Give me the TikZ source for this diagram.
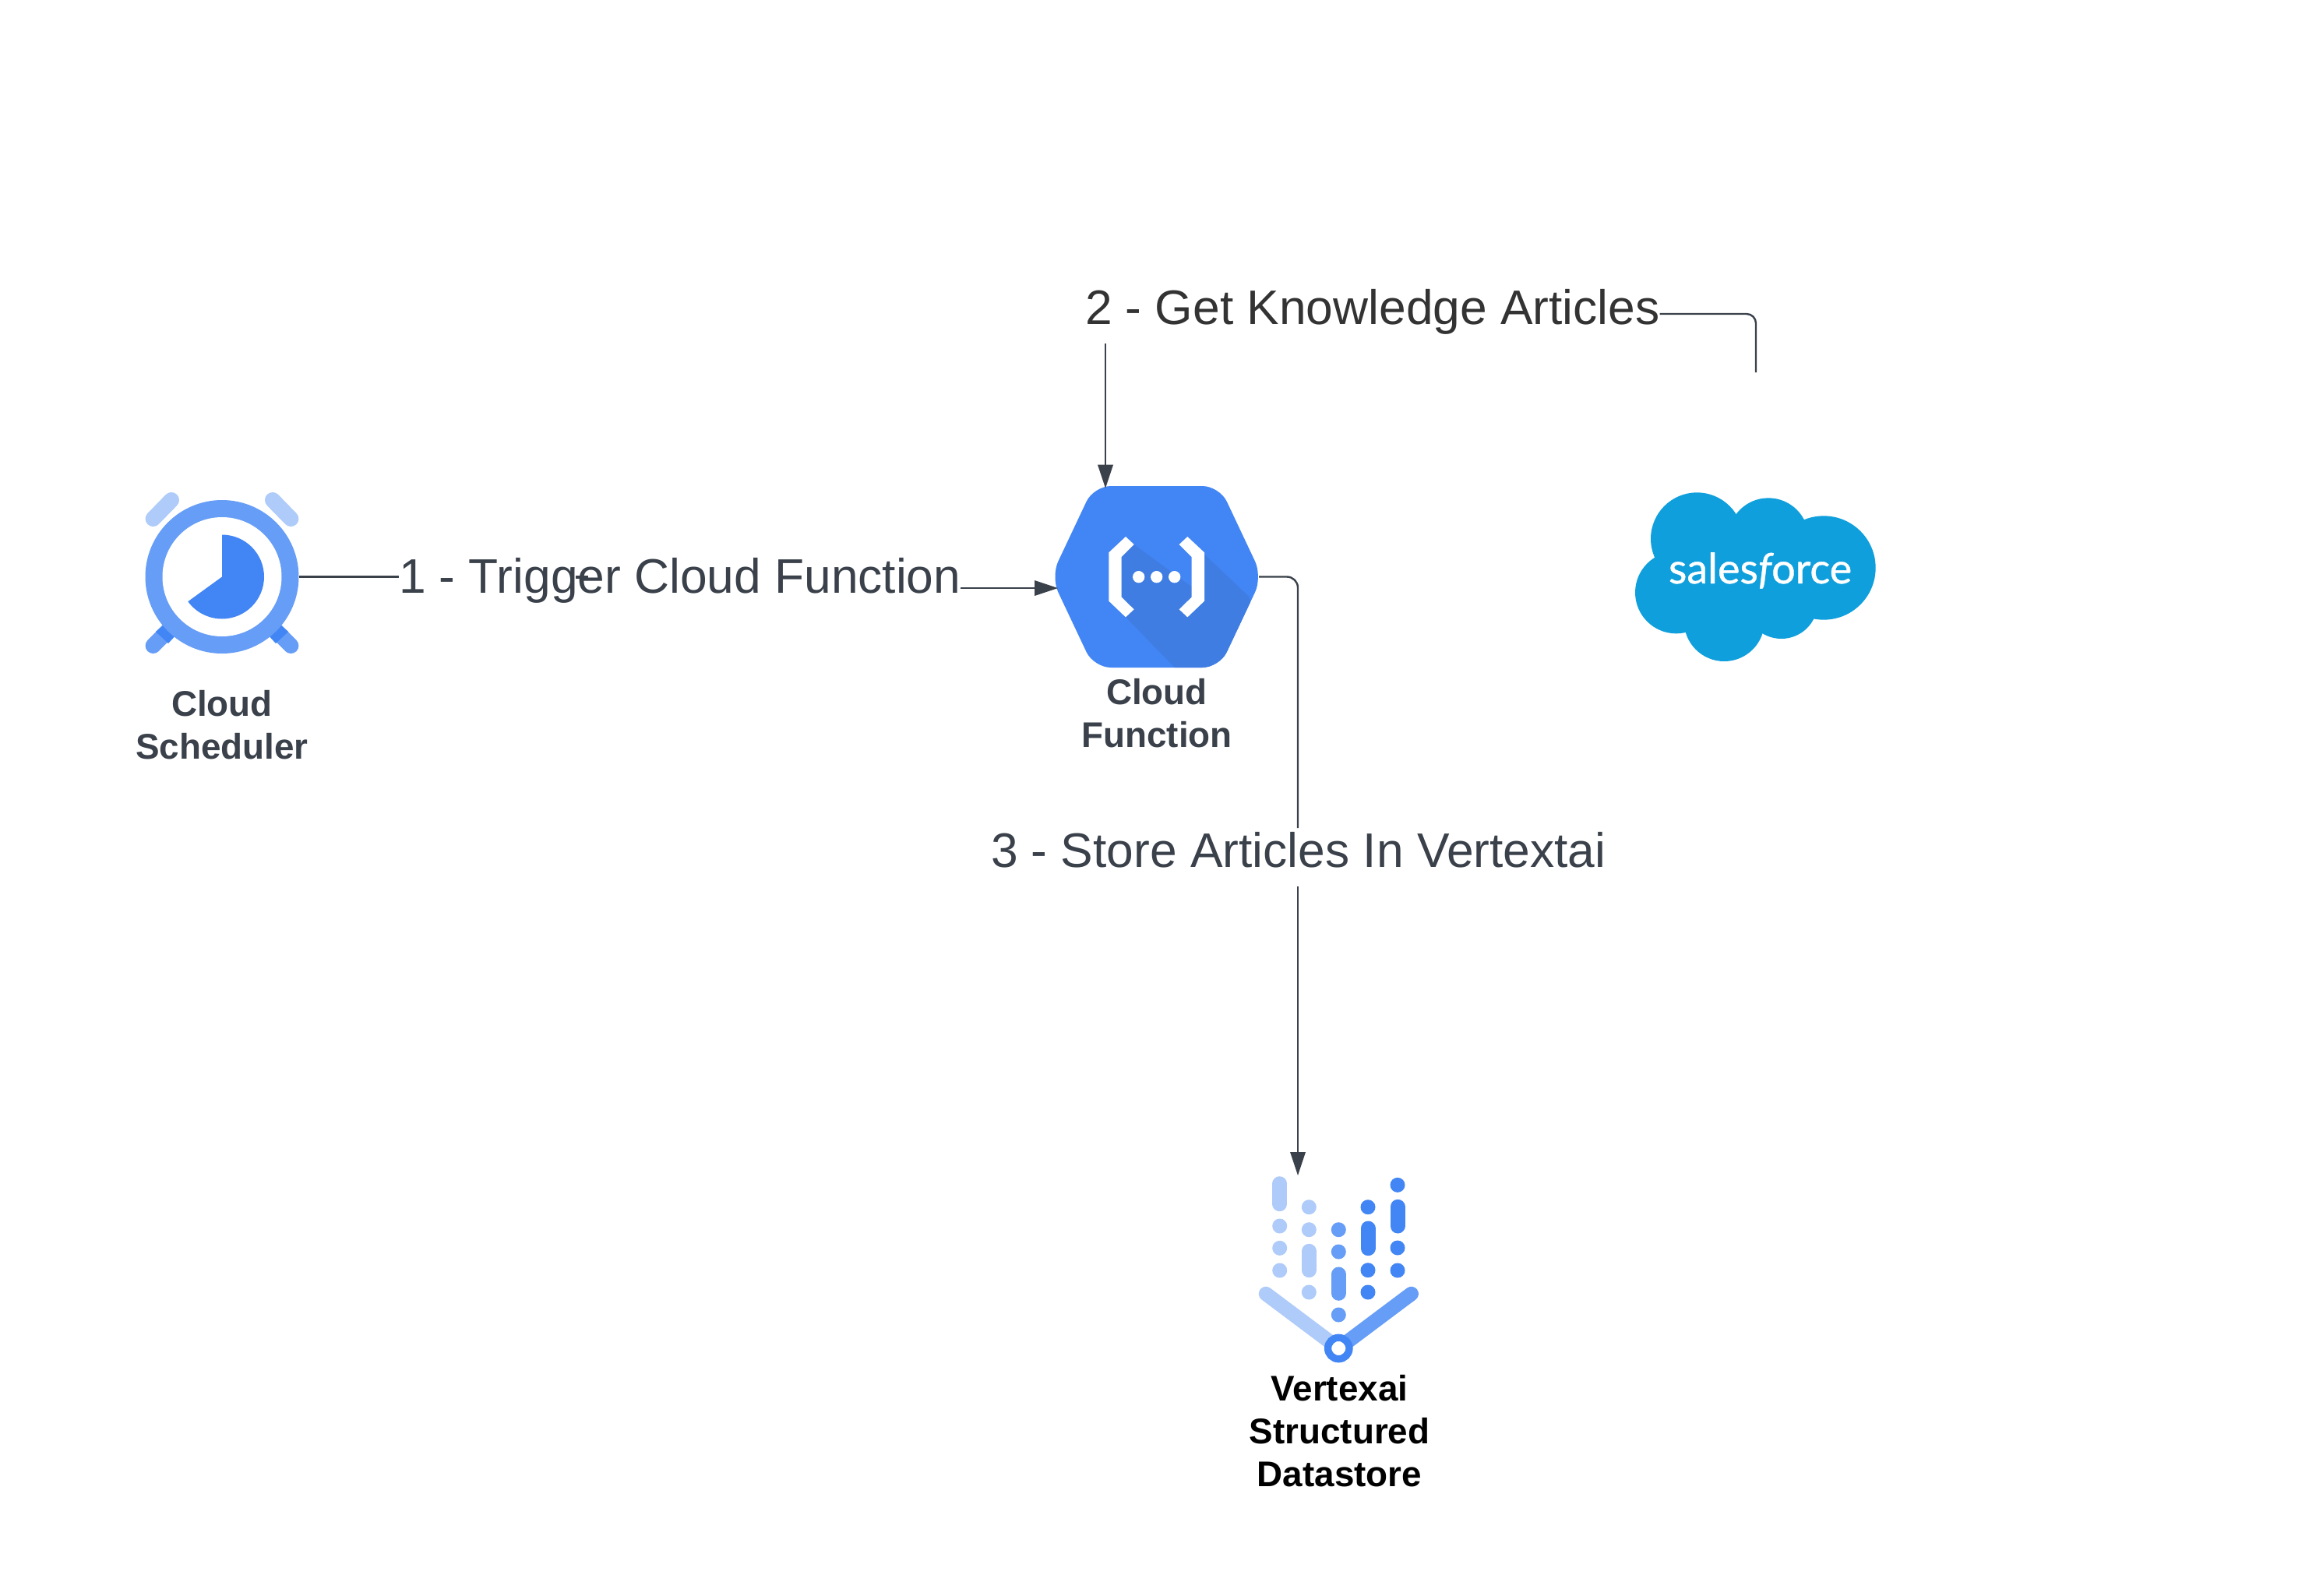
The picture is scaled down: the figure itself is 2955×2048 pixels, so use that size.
\documentclass[tikz,border=0pt]{standalone}
\usepackage{fontspec}
\setmainfont{Liberation Sans}
\newfontfamily\sflogo[FakeBold=0.8]{Lato}
\usetikzlibrary{arrows.meta}
\definecolor{gblue}{HTML}{4285F4}
\definecolor{gmid}{HTML}{669DF6}
\definecolor{glight}{HTML}{AECBFA}
\definecolor{gshade}{HTML}{3F7DE3}
\definecolor{sfblue}{HTML}{0F9FDC}
\definecolor{ink}{HTML}{3A414A}
\definecolor{inktwo}{HTML}{333333}
\tikzset{
  x=1pt,y=-1pt,
  conn/.style={draw=ink,line width=2.4pt},
  arrowed/.style={conn,-{Triangle[length=30pt,width=20pt,line width=0pt]}},
  iconbox/.style={inner sep=0pt,outer sep=0pt},
  steplabel/.style={inner sep=0pt,outer sep=0pt,anchor=base west,font=\fontsize{62.3}{70}\selectfont},
  iconlabel/.style={inner sep=0pt,outer sep=0pt,anchor=base,align=center,font=\fontsize{45.8}{54.8}\selectfont\bfseries},
  dotbar/.style={line width=19pt,line cap=round},
}
\newcommand{\dotsbars}[4]{% colour, x, list of dots, list of bars
  \foreach \yy in {#3} {\fill[#1] (#2,\yy) circle[radius=9.5];}
  \foreach \ya/\yb in {#4} {\draw[dotbar,draw=#1] (#2,\ya) -- (#2,\yb);}
}
\begin{document}
\begin{tikzpicture}
\useasboundingbox (0,0) rectangle (2955,2048);
\fill[white] (0,0) rectangle (2955,2048);

% ---- Cloud Scheduler icon
\node[iconbox,circle,minimum size=197pt] (sched) at (285,740.5) {};
\draw[line width=20pt,line cap=round,glight] (196.6,666) -- (220,642);
\draw[line width=20pt,line cap=round,glight] (373.4,666) -- (350,642);
\draw[line width=20pt,line cap=round,gmid] (196.6,829) -- (225,800);
\draw[line width=20pt,line cap=round,gmid] (373.4,829) -- (345,800);
\fill[gblue] (200,811) -- (216,826) -- (240,800) -- (225,790) -- cycle;
\fill[gblue] (370,811) -- (354,826) -- (330,800) -- (345,790) -- cycle;
\fill[gmid] (285,740.5) circle[radius=98.5];
\fill[white] (285,740.5) circle[radius=76.5];
\fill[gblue] (285,740.5) -- (285,686.5) arc[start angle=-90,end angle=144,radius=54] -- cycle;
\node[iconlabel,text=ink] (schedlabel) at (285,974) {Cloud\\Scheduler};

% ---- Cloud Function icon
\node[iconbox,minimum width=263pt,minimum height=233pt] (func) at (1484.7,740.5) {};
\begin{scope}
\clip[rounded corners=22pt] (1349,740.5) -- (1404,624) -- (1565.4,624) -- (1620.4,740.5) -- (1565.4,857) -- (1404,857) -- cycle;
\fill[gblue] (1300,600) rectangle (1650,880);
\begin{scope}[shift={(1200,580)},scale=1/3]
\fill[gshade] (767,357) -- (989,520) -- (1038,395) -- (1210,558) -- (1300,900) -- (991,900) -- (735,637) -- (700,600) -- (700,400) -- cycle;
\end{scope}
\end{scope}
\begin{scope}[shift={(1200,580)},scale=1/3]
\fill[white] (735,327) -- (767,357) -- (719,405) -- (719,560) -- (767,607) -- (735,637) -- (670,575) -- (670,388) -- cycle;
\fill[white] (973,327) -- (941,357) -- (989,405) -- (989,560) -- (941,607) -- (973,637) -- (1038,575) -- (1038,388) -- cycle;
\fill[white] (785,482) circle[radius=23];
\fill[white] (854,482) circle[radius=23];
\fill[white] (923,482) circle[radius=23];
\end{scope}
\node[iconlabel,text=ink] (funclabel) at (1485,959.5) {Cloud\\Function};

% ---- Salesforce icon
\node[iconbox,minimum width=308pt,minimum height=216pt] (sf) at (2254,770) {};
\begin{scope}[shift={(2060,600)},scale=1/3]
\fill[sfblue] (355,275) circle[radius=178];
\fill[sfblue] (630,273) circle[radius=155];
\fill[sfblue] (843,387) circle[radius=200];
\fill[sfblue] (275,482) circle[radius=158];
\fill[sfblue] (460,592) circle[radius=155];
\fill[sfblue] (680,520) circle[radius=140];
\fill[sfblue] (300,300) rectangle (800,560);
\end{scope}
\node[inner sep=0pt,outer sep=0pt,anchor=base west,text=white,font=\sflogo\fontsize{54}{60}\selectfont] (sfname) at (2142,749) {sales{\itshape f}orce};

% ---- Vertexai icon
\node[iconbox,minimum width=205pt,minimum height=240pt] (vx) at (1718.3,1630) {};
\begin{scope}[yshift=-1pt]
\dotsbars{glight}{1642.7}{1573,1601.3,1630}{1518.7/1544.7}
\dotsbars{glight}{1680.3}{1548.7,1577.7,1658}{1605.3/1629.7}
\dotsbars{gmid}{1718.3}{1577.7,1606,1687}{1635/1659.3}
\dotsbars{gblue}{1756}{1548.7,1629.7,1658}{1576/1601.7}
\dotsbars{gblue}{1794}{1520.3,1601,1630}{1548.3/1573}
\draw[line width=18.5pt,line cap=round,glight] (1625,1660) -- (1718.3,1730);
\draw[line width=18.5pt,line cap=round,gmid] (1811.7,1660) -- (1718.3,1730);
\fill[white] (1718.3,1730) circle[radius=14];
\draw[line width=9.3pt,gblue] (1718.3,1730) circle[radius=13.7];
\end{scope}
\node[iconlabel,text=black] (vxlabel) at (1719.5,1908) {Vertexai\\Structured\\Datastore};

% ---- Step labels
\node[steplabel,text=ink] (stepone) at (512,761.5) {1 - Trigger Cloud Function};
\node[steplabel,text=inktwo] (steptwo) at (1393,416) {2 - Get Knowledge Articles};
\node[steplabel,text=ink] (stepthree) at (1272,1113) {3 - Store Articles In Vertextai};

% ---- Connector anchors
\coordinate (oneout) at (stepone.east |- 0,755);
\coordinate (funcin) at (1358,755);
\coordinate (twoout) at (1419,441);
\coordinate (twoin) at (1419,626.7);
\coordinate (sftop) at (2254,478);
\coordinate (twoturn) at (2254,403);
\coordinate (threeturn) at (1666,740.5);
\coordinate (threeup) at (1666,1063);
\coordinate (threedown) at (1666,1138);
\coordinate (vxin) at (1666,1509);
\coordinate (stubl) at (739,740.5);
\coordinate (stubr) at (755,740.5);

% ---- Connectors
\draw[conn] (sched.east) -- (stepone.west |- sched.east);
\draw[conn,line width=4pt] (stubl) -- (stubr);
\draw[arrowed] (oneout) -- (funcin);
\draw[conn,rounded corners=12pt] (sftop) -- (twoturn) -- (steptwo.east |- twoturn);
\draw[arrowed] (twoout) -- (twoin);
\draw[conn,rounded corners=14pt] (func.east) -- (threeturn) -- (threeup);
\draw[arrowed] (threedown) -- (vxin);
\end{tikzpicture}
\end{document}
